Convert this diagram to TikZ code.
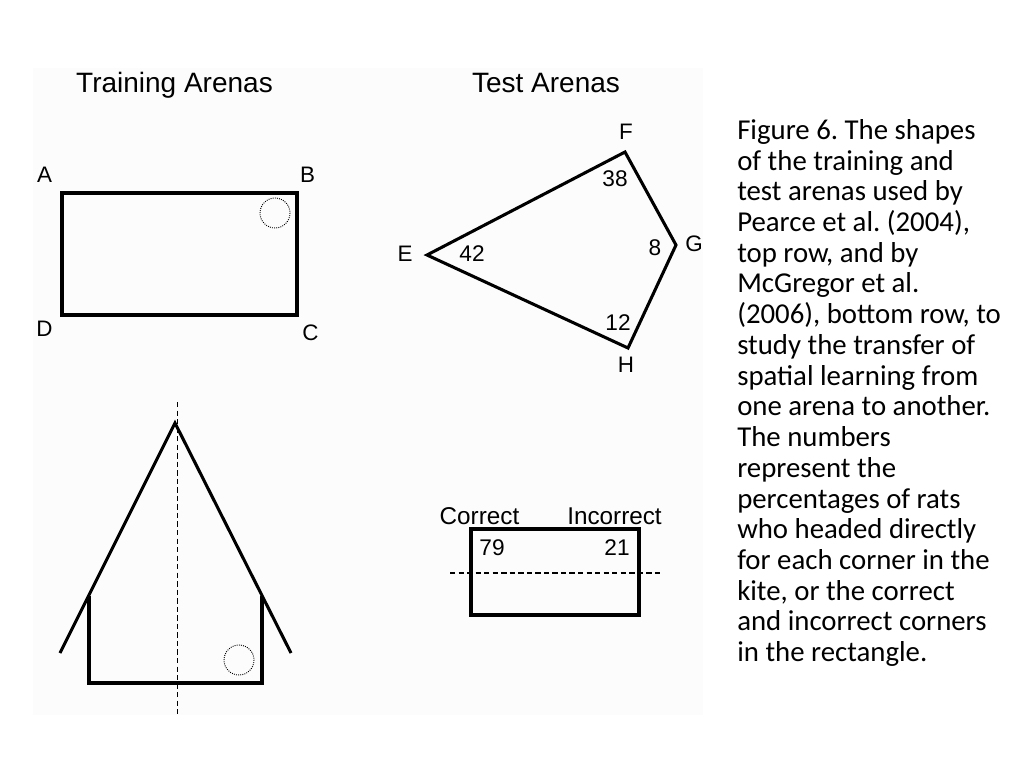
\documentclass[tikz,border=0pt]{standalone}
\usepackage{fontspec}
\newfontfamily\arialfont{Liberation Sans}
\newfontfamily\capfont{Carlito}
\usetikzlibrary{positioning}
\frenchspacing

\tikzset{
  wall/.style={line width=2.3pt,line join=miter},
  guide/.style={line width=1pt,dash pattern=on 4pt off 2.4pt},
  goal/.style={line width=0.7pt,dash pattern=on 0.7pt off 0.9pt},
  title/.style={font=\arialfont\fontsize{21}{25}\selectfont,anchor=base,inner sep=0},
  corner/.style={font=\arialfont\fontsize{16.8}{20}\selectfont,anchor=base,inner sep=0},
  score/.style={font=\arialfont\fontsize{17}{20}\selectfont,anchor=base,inner sep=0},
  side/.style={font=\arialfont\fontsize{18.2}{20}\selectfont,anchor=base,inner sep=0},
  capline/.style={font=\capfont\fontsize{21.6}{23}\selectfont,anchor=base west,inner sep=0}
}

\begin{document}
\begin{tikzpicture}[x=0.75pt,y=-0.75pt]
\useasboundingbox[fill=white] (0,0) rectangle (1024,768);
\fill[black!1.2] (33,68) rectangle (703,715);

% titles
\node[title] (train) at (174.5,92) {Training Arenas};
\node[title] (test) at (546,92.5) {Test Arenas};

% training rectangle
\draw[wall] (62,193) rectangle (297,315);
\draw[goal] (275,213) circle (15);
\node[corner] (A) at (44.5,182) {A};
\node[corner] (B) at (307.5,182) {B};
\node[corner] (D) at (44.5,336) {D};
\node[corner] (C) at (310.5,340) {C};

% kite
\coordinate (e) at (427,255);
\coordinate (f) at (625,152);
\coordinate (g) at (676,245);
\coordinate (h) at (628,348);
\draw[wall] (e) -- (f) -- (g) -- (h) -- cycle;
\node[corner] (E) at (405,261) {E};
\node[corner] (F) at (626,139) {F};
\node[corner] (G) at (694,251) {G};
\node[corner] (H) at (626,372) {H};
\node[score] (sE) at (472,261) {42};
\node[score] (sF) at (615,186) {38};
\node[score] (sG) at (655,255) {8};
\node[score] (sH) at (618,330) {12};

% training house
\coordinate (apex) at (175,423);
\coordinate (roofL) at (60,653);
\coordinate (roofR) at (291,653);
\draw[wall] (roofL) -- (apex) -- (roofR);
\draw[wall] (89,596) -- (89,683) -- (262,683) -- (262,596);
\draw[goal] (239,660) circle (15);
\draw[guide] (177.5,402) -- (177.5,714);

% test rectangle
\draw[wall] (471,529) rectangle (639,615);
\draw[guide] (450,573) -- (661,573);
\node[side] (correct) at (479.5,524) {Correct};
\node[side] (incorrect) at (614.5,524) {Incorrect};
\node[score] (sC) at (492,555) {79};
\node[score] (sI) at (617,555) {21};

% caption
\foreach \txt [count=\i] in {{Figure 6. The shapes},{of the training and},{test arenas used by},
  {Pearce et al. (2004),},{top row, and by},{McGregor et al.},{(2006), bottom row, to},
  {study the transfer of},{spatial learning from},{one arena to another.},{The numbers},
  {represent the},{percentages of rats},{who headed directly},{for each corner in the},
  {kite, or the correct},{and incorrect corners},{in the rectangle.}}
  \node[capline] (cap\i) at (737,{139.3+30.73*(\i-1)}) {\txt};
\end{tikzpicture}
\end{document}
